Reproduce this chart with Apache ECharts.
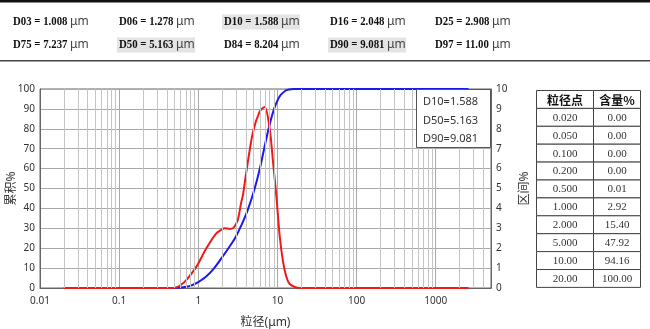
<!DOCTYPE html>
<html>
<head>
<meta charset="utf-8">
<script src="https://cdn.jsdelivr.net/npm/echarts@6/dist/echarts.min.js"></script>
<style>html,body{margin:0;padding:0;background:#fff}#c{width:650px;height:329px}</style>
</head>
<body>
<div id="c"></div>
<script>
// Header statistics
const dNames = ['D03','D06','D10','D16','D25','D75','D50','D84','D90','D97'];
const dValues = ['1.008','1.278','1.588','2.048','2.908','7.237','5.163','8.204','9.081','11.00'];
const dHighlight = ['D10','D50','D90'];

// Cumulative curve (left axis, %)
const cumSizes = [0.02,0.3,0.5,0.6,0.7,0.8,0.9,1.0,1.278,1.588,2.048,2.5,2.908,3.5,4.2,5.163,6.0,7.237,8.204,9.081,10,11,12.5,14,16,20,2600];
const cumValues = [0,0,0.01,0.2,0.6,1.2,2.0,2.92,6,10,16,21,25,31.5,39,50,60,75,84,90,94.16,97,99,99.7,100,100,100];

// Interval curve (right axis, %)
const difSizes = [0.02,0.45,0.527,0.6,0.705,0.944,1.26,1.69,2.0,2.15,2.5,2.75,3.03,3.18,3.5,3.68,4.05,4.92,5.97,6.9,7.99,8.82,9.71,10.7,11.8,13.0,14.3,16.6,19,2600];
const difValues = [0,0,0.03,0.15,0.4,1.06,1.98,2.74,2.95,3.0,2.97,3.0,3.25,3.45,4.33,4.7,5.84,7.85,8.86,9.1,8.0,6.3,4.6,2.6,1.3,0.55,0.2,0.05,0,0];

// Legend box text
const boxLines = ['D10=1.588','D50=5.163','D90=9.081'];

// Table
const tableHeader = ['粒径点','含量%'];
const tableSizes = ['0.020','0.050','0.100','0.200','0.500','1.000','2.000','5.000','10.00','20.00'];
const tableContents = ['0.00','0.00','0.00','0.00','0.01','2.92','15.40','47.92','94.16','100.00'];

// Axis settings
const xMin = 0.01, xMax = 5000;
const leftTicks = {min:0, max:100, interval:10};
const rightTicks = {min:0, max:10, interval:1};

const chart = echarts.init(document.getElementById('c'), null, {renderer:'canvas'});

// minor vertical grid values (2..9 x 10^n)
const minorVals = [];
for (let e = -2; e <= 3; e++) {
  for (let k = 2; k <= 9; k++) {
    const v = k * Math.pow(10, e);
    if (v < xMax) minorVals.push(+v.toPrecision(3));
  }
}

const graphics = [];
// header lines
graphics.push({type:'rect', shape:{x:0,y:0,width:650,height:2.5}, style:{fill:'#111'}, z:100});
graphics.push({type:'rect', shape:{x:0,y:60,width:650,height:1.5}, style:{fill:'#444'}, z:100});
// header cells
const colX = [13,119,224,330,435];
const rowY = [22,45];
const hlWidth = 78;
dNames.forEach((n,i) => {
  const col = i % 5, row = Math.floor(i/5);
  const x = colX[col], y = rowY[row];
  if (dHighlight.includes(n)) {
    graphics.push({type:'rect', shape:{x:x-2,y:y-7.5,width:hlWidth,height:15}, style:{fill:'#e4e4e4'}, z:100});
  }
  graphics.push({type:'text', x:x, y:y, scaleX:0.8, z:101,
    style:{text:n+' = '+dValues[i], fill:'#111', font:'bold 13.5px "Liberation Serif", serif', textAlign:'left', textVerticalAlign:'middle'}});
  graphics.push({type:'text', x:x+57, y:y, z:101,
    style:{text:'μm', fill:'#444', font:'12px "Noto Sans", sans-serif', textAlign:'left', textVerticalAlign:'middle'}});
});
// legend box
graphics.push({type:'rect', shape:{x:416.5,y:89.5,width:74,height:58}, style:{fill:'#fff', stroke:'#555', lineWidth:1}, z:100});
boxLines.forEach((t,i) => {
  graphics.push({type:'text', x:423, y:102+i*18.5, z:101,
    style:{text:t, fill:'#333', font:'11px "Noto Sans", sans-serif', textAlign:'left', textVerticalAlign:'middle'}});
});
// table
const tx0 = 536.5, tx1 = 593.5, tx2 = 640.5, ty0 = 90.5, rh = 17.9;
const rows = [[tableHeader[0], tableHeader[1]]].concat(tableSizes.map((s,i)=>[s, tableContents[i]]));
rows.forEach((r,i) => {
  const y = ty0 + i*rh;
  graphics.push({type:'rect', shape:{x:tx0,y:y,width:tx1-tx0,height:rh}, style:{fill:'#fff', stroke:'#444', lineWidth:1}, z:100});
  graphics.push({type:'rect', shape:{x:tx1,y:y,width:tx2-tx1,height:rh}, style:{fill:'#fff', stroke:'#444', lineWidth:1}, z:100});
  const font = i === 0 ? 'bold 12px "Noto Sans CJK SC", sans-serif' : '11px "Liberation Serif", serif';
  const fill = i === 0 ? '#111' : '#333';
  graphics.push({type:'text', x:(tx0+tx1)/2, y:y+rh/2+0.5, z:101, style:{text:r[0], fill:fill, font:font, textAlign:'center', textVerticalAlign:'middle'}});
  graphics.push({type:'text', x:(tx1+tx2)/2, y:y+rh/2+0.5, z:101, style:{text:r[1], fill:fill, font:font, textAlign:'center', textVerticalAlign:'middle'}});
});

const labelFont = {fontSize:10, color:'#333', fontFamily:'"Noto Sans", sans-serif'};
const nameFont = {fontSize:12, color:'#333', fontFamily:'"Noto Sans", "Noto Sans CJK SC", sans-serif'};

const option = {
  animation: false,
  backgroundColor: '#fff',
  grid: {left:40, right:159, top:89, bottom:41, show:true, borderColor:'#666', borderWidth:1, containLabel:false, outerBoundsMode:'none'},
  xAxis: {
    type:'log', logBase:10, min:xMin, max:xMax,
    name:'粒径(μm)', nameLocation:'middle', nameGap:29, nameMoveOverlap:false, nameTextStyle:nameFont,
    axisLine:{show:true, lineStyle:{color:'#666'}},
    axisTick:{show:false},
    axisLabel:Object.assign({margin:8, showMaxLabel:false, formatter:function(v){
      const l = Math.log10(v);
      if (Math.abs(l - Math.round(l)) > 1e-6) return '';
      return v >= 1 ? String(Math.round(v)) : String(+v.toPrecision(1));
    }}, labelFont),
    splitLine:{show:true, lineStyle:{color:'#a8a8a8', width:1}}
  },
  yAxis: [
    {type:'value', min:leftTicks.min, max:leftTicks.max, interval:leftTicks.interval, position:'left',
     name:'累积%', nameLocation:'middle', nameGap:22, nameRotate:90, nameMoveOverlap:false, nameTextStyle:nameFont,
     axisLine:{show:true, lineStyle:{color:'#666'}}, axisTick:{show:false},
     axisLabel:Object.assign({margin:5}, labelFont),
     splitLine:{show:true, lineStyle:{color:'#a8a8a8', width:1}}},
    {type:'value', min:rightTicks.min, max:rightTicks.max, interval:rightTicks.interval, position:'right',
     name:'区间%', nameLocation:'middle', nameGap:28, nameRotate:90, nameMoveOverlap:false, nameTextStyle:nameFont,
     axisLine:{show:true, lineStyle:{color:'#666'}}, axisTick:{show:false},
     axisLabel:Object.assign({margin:5}, labelFont),
     splitLine:{show:false}}
  ],
  series: [
    {type:'line', z:1, yAxisIndex:0, data:[[1,0]], showSymbol:false, symbol:'none', lineStyle:{opacity:0},
     markLine:{silent:true, symbol:'none', label:{show:false}, animation:false,
       lineStyle:{color:'#c4c4c4', width:1, type:'solid'},
       data:minorVals.map(v=>({xAxis:v}))}},
    {type:'line', z:3, yAxisIndex:0, name:'累积', data:cumSizes.map((s,i)=>[s,cumValues[i]]),
     showSymbol:false, symbol:'none', smooth:0.3, lineStyle:{color:'#1a1aee', width:2}},
    {type:'line', z:4, yAxisIndex:1, name:'区间', data:difSizes.map((s,i)=>[s,difValues[i]]),
     showSymbol:false, symbol:'none', smooth:0.3, lineStyle:{color:'#ee1a1a', width:2}}
  ],
  graphic: graphics
};
chart.setOption(option);
</script>
</body>
</html>
